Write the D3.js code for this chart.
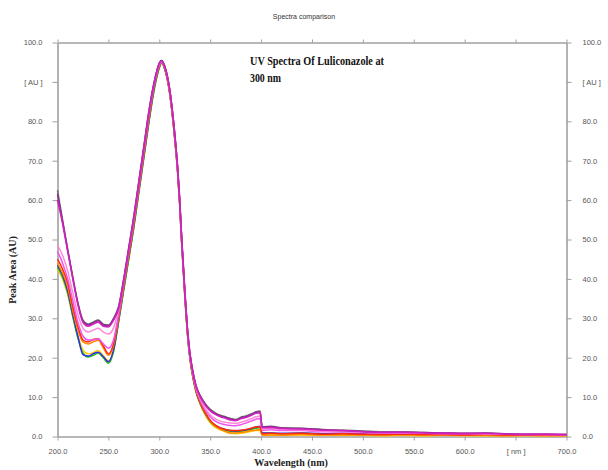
<!DOCTYPE html>
<html><head><meta charset="utf-8">
<script src="https://cdn.jsdelivr.net/npm/d3@7"></script>
<style>body{margin:0;background:#fff}svg{display:block}</style>
</head><body>
<svg id="c" width="608" height="470"></svg>
<script>
// Wavelength grid (nm)
const wavelengths = [200,205,210,215,220,225,230,235,240,245,250,255,260,265,270,275,280,285,290,295,300,302,305,310,315,318,320,322,325,328,330,333,336,340,345,350,355,360,365,370,375,380,385,390,395,399,401,410,420,440,460,480,500,520,540,560,580,600,620,640,660,680,700];

// Series values (AU), one per spectrum
const greenVals  = [43,40.5,36.5,30.5,25,21.2,20.2,20.6,21.2,20,18.6,21.5,29,37,45,53,62,71,80,88,93.5,94.8,93.5,87.5,76,67,59,49,36,25,20,15,11.5,8.5,5.8,3.8,2.6,2,1.6,1.3,1.2,1.3,1.5,1.8,2.1,2.3,0.8,0.8,0.7,0.8,0.6,0.7,0.6,0.5,0.6,0.5,0.6,0.4,0.5,0.4,0.4,0.3,0.3];
const blueVals   = [43.5,41,37,31,25.5,20.8,20.4,21,21.4,20.3,19,22,29.5,37.5,45.5,53.5,62.5,71.5,80.5,88.5,93.8,94.9,93.6,87.6,76.2,67.2,59.2,49.2,36.2,25.2,20.2,15.2,11.6,8.6,5.9,4,2.8,2.2,1.8,1.5,1.4,1.5,1.7,2,2.4,2.6,0.9,0.9,0.8,0.9,0.7,0.8,0.7,0.6,0.7,0.6,0.5,0.5,0.6,0.4,0.5,0.4,0.3];
const yellowVals = [42.5,40,36,30.5,25.5,22,21,21.3,21.8,20.5,19.2,21.8,29.3,37.2,45.2,53.2,62.2,71.2,80.2,88.2,93.6,94.8,93.4,87.3,75.8,66.8,58.8,48.8,35.8,24.8,19.8,14.8,11.2,8.2,5.5,3.5,2.3,1.7,1.2,0.8,0.7,0.8,1,1.3,1.5,1.6,0.3,0.3,0.3,0.4,0.3,0.3,0.3,0.2,0.3,0.2,0.3,0.2,0.2,0.2,0.2,0.2,0.2];
const orangeVals = [44,41.5,38,32,27,24,23.5,24,24.4,22.5,20.6,23,30,38,46,54,63,72,81,89,94,95,93.7,87.7,76.4,67.4,59.4,49.4,36.4,25.4,20.4,15.4,11.8,8.8,6,3.9,2.6,1.8,1.3,0.9,0.9,1,1.2,1.5,1.6,1.8,0.4,0.4,0.4,0.5,0.4,0.4,0.3,0.3,0.4,0.3,0.3,0.3,0.3,0.2,0.3,0.2,0.2];
const redVals    = [45,42.5,39,33,28,24.5,24,24.6,24.8,23,21,23.5,30.5,38.5,46.5,54.5,63.5,72.5,81.5,89.3,94.2,95.1,93.8,87.8,76.5,67.5,59.5,49.5,36.5,25.5,20.5,15.5,11.9,9,6.2,4.1,2.9,2.2,1.8,1.5,1.5,1.6,1.8,2.1,2.4,2.5,0.7,0.8,0.7,0.8,0.6,0.7,0.6,0.5,0.6,0.5,0.5,0.4,0.5,0.4,0.4,0.3,0.3];
const lightMagentaVals = [47,44,40,34.5,29,25.5,24.5,24.5,24.8,23.5,22.4,24.5,31,39,47,55,64,73,82,89.5,94.3,95.1,93.9,88,76.8,67.8,59.8,49.8,36.8,25.8,20.8,15.8,12.2,9.4,6.8,5,3.9,3.3,3,2.8,2.7,3,3.4,3.9,4.4,4.6,1.6,1.7,1.5,1.5,1.2,1.2,1,0.9,0.9,0.8,0.7,0.7,0.7,0.6,0.5,0.5,0.4];
const pinkVals   = [48.5,46,42,36.5,31,27.5,26.5,27,27.5,26.5,26,27.5,32.5,39.5,47.5,55.5,64.5,73.5,82.5,89.7,94.5,95.2,94,88.2,77,68,60,50,37,26,21,16,12.4,9.7,7.2,5.5,4.5,3.9,3.6,3.4,3.3,3.6,4,4.5,5,5.2,1.9,2,1.8,1.7,1.4,1.3,1.1,1,1,0.9,0.8,0.8,0.7,0.6,0.6,0.5,0.5];
const magentaVals = [60,54,47,40,33.5,29,28,28.5,29,28,27.8,29.5,32.5,39.5,47.5,55.5,64.5,73.5,82.5,89.8,94.6,95.3,94.1,88.4,77.2,68.2,60.2,50.2,37.2,26.2,21.2,16.3,12.8,10.2,8,6.5,5.6,5,4.6,4.2,4,4.5,4.8,5.3,5.9,6,2.2,2.3,2,1.9,1.6,1.5,1.2,1,1.1,0.9,0.8,0.7,0.8,0.6,0.5,0.6,0.5];
const purpleVals = [61.5,54.5,47.3,40.3,33.8,29.3,28.3,28.8,29.4,28.3,28.1,29.8,32.8,39.8,47.8,55.8,64.8,73.8,82.8,90,94.8,95.4,94.2,88.5,77.3,68.3,60.3,50.3,37.3,26.3,21.3,16.4,12.9,10.3,8.2,6.7,5.8,5.2,4.8,4.4,4.1,4.7,5,5.5,6.1,6.3,2.4,2.5,2.1,2,1.7,1.5,1.3,1.1,1.1,1,0.9,0.8,0.8,0.7,0.6,0.6,0.5];
const greyVals   = [62.5,55,47.5,40.5,34,29.5,28.5,29,29.6,28.5,28.3,30,33,40,48,56,65,74,83,90,94.8,95.4,94.2,88.5,77.3,68.3,60.3,50.3,37.3,26.3,21.3,16.5,13,10.5,8.4,6.9,6,5.4,5,4.6,4.3,4.9,5.2,5.7,6.3,6.5,2.5,2.6,2.2,2.1,1.8,1.6,1.4,1.2,1.2,1,0.9,0.8,0.9,0.7,0.6,0.6,0.5];

const seriesNames  = ["grey","yellow","green","blue","orange","red","lightMagenta","pink","purple","magenta"];
const seriesColors = ["#6a6a6a","#ffcc00","#22c000","#3030ee","#ff8a00","#ff2a10","#ee55ee","#ff88d8","#902a90","#d020c0"];
const seriesValues = [greyVals,yellowVals,greenVals,blueVals,orangeVals,redVals,lightMagentaVals,pinkVals,purpleVals,magentaVals];

const xTicks = [200,250,300,350,400,450,500,550,600,650,700];
const xTickLabels = ["200.0","250.0","300.0","350.0","400.0","450.0","500.0","550.0","600.0","[ nm ]","700.0"];
const yTicks = [0,10,20,30,40,50,60,70,80,90,100];
const yTickLabels = ["0.0","10.0","20.0","30.0","40.0","50.0","60.0","70.0","80.0","[ AU ]","100.0"];

const svg = d3.select("#c");
const L = 57.5, R = 566.5, T = 42.5, B = 436.5;
const x = d3.scaleLinear().domain([200,700]).range([L,R]);
const y = d3.scaleLinear().domain([0,100]).range([B,T]);

const axisColor = "#a0a0a0";
const labelColor = "#555";
const tickFont = "Arial, 'Liberation Sans', sans-serif";

function styleAxis(g){
  g.select(".domain").attr("stroke",axisColor).attr("stroke-width",1.6);
  g.selectAll(".tick line").attr("stroke",axisColor).attr("stroke-width",1);
  g.selectAll(".tick text").attr("fill",labelColor).attr("font-size","7.5px").attr("font-family",tickFont);
}

svg.append("g").attr("transform",`translate(0,${B})`)
  .call(d3.axisBottom(x).tickValues(xTicks).tickFormat((d,i)=>xTickLabels[i]).tickSize(4).tickSizeOuter(0).tickPadding(8))
  .call(styleAxis);
svg.append("g").attr("transform",`translate(0,${T})`)
  .call(d3.axisTop(x).tickValues(xTicks).tickFormat("").tickSize(3).tickSizeOuter(0))
  .call(styleAxis);
svg.append("g").attr("transform",`translate(${L},0)`)
  .call(d3.axisLeft(y).tickValues(yTicks).tickFormat((d,i)=>yTickLabels[i]).tickSize(5).tickSizeOuter(0).tickPadding(10))
  .call(styleAxis);
svg.append("g").attr("transform",`translate(${R},0)`)
  .call(d3.axisRight(y).tickValues(yTicks).tickFormat((d,i)=>yTickLabels[i]).tickSize(5).tickSizeOuter(0).tickPadding(11))
  .call(styleAxis);

const line = d3.line().x((d,i)=>x(wavelengths[i])).y(d=>y(d)).curve(d3.curveMonotoneX);
svg.append("g").selectAll("path").data(seriesValues).join("path")
  .attr("d",d=>line(d))
  .attr("fill","none")
  .attr("stroke",(d,i)=>seriesColors[i])
  .attr("stroke-width",1.5)
  .attr("stroke-linejoin","round");

svg.append("text").attr("x",304).attr("y",19).attr("text-anchor","middle")
  .attr("font-size","7px").attr("font-family",tickFont).attr("fill","#333").text("Spectra comparison");

const serif = "'Liberation Serif','Times New Roman',serif";
svg.append("text").attr("x",250).attr("y",65).attr("font-size","11.5px").attr("font-weight","bold")
  .attr("font-family",serif).attr("fill","#111").attr("textLength",134).attr("lengthAdjust","spacingAndGlyphs")
  .text("UV Spectra Of Luliconazole at");
svg.append("text").attr("x",250).attr("y",82).attr("font-size","11.5px").attr("font-weight","bold")
  .attr("font-family",serif).attr("fill","#111").attr("textLength",31).attr("lengthAdjust","spacingAndGlyphs")
  .text("300 nm");

svg.append("text").attr("x",291).attr("y",466).attr("text-anchor","middle").attr("font-size","10px").attr("font-weight","bold")
  .attr("font-family",serif).attr("fill","#222").text("Wavelength (nm)");

svg.append("text").attr("transform","translate(16,270) rotate(-90)").attr("text-anchor","middle")
  .attr("font-size","10px").attr("font-weight","bold").attr("font-family",serif).attr("fill","#222").text("Peak Area (AU)");
</script>
</body></html>
